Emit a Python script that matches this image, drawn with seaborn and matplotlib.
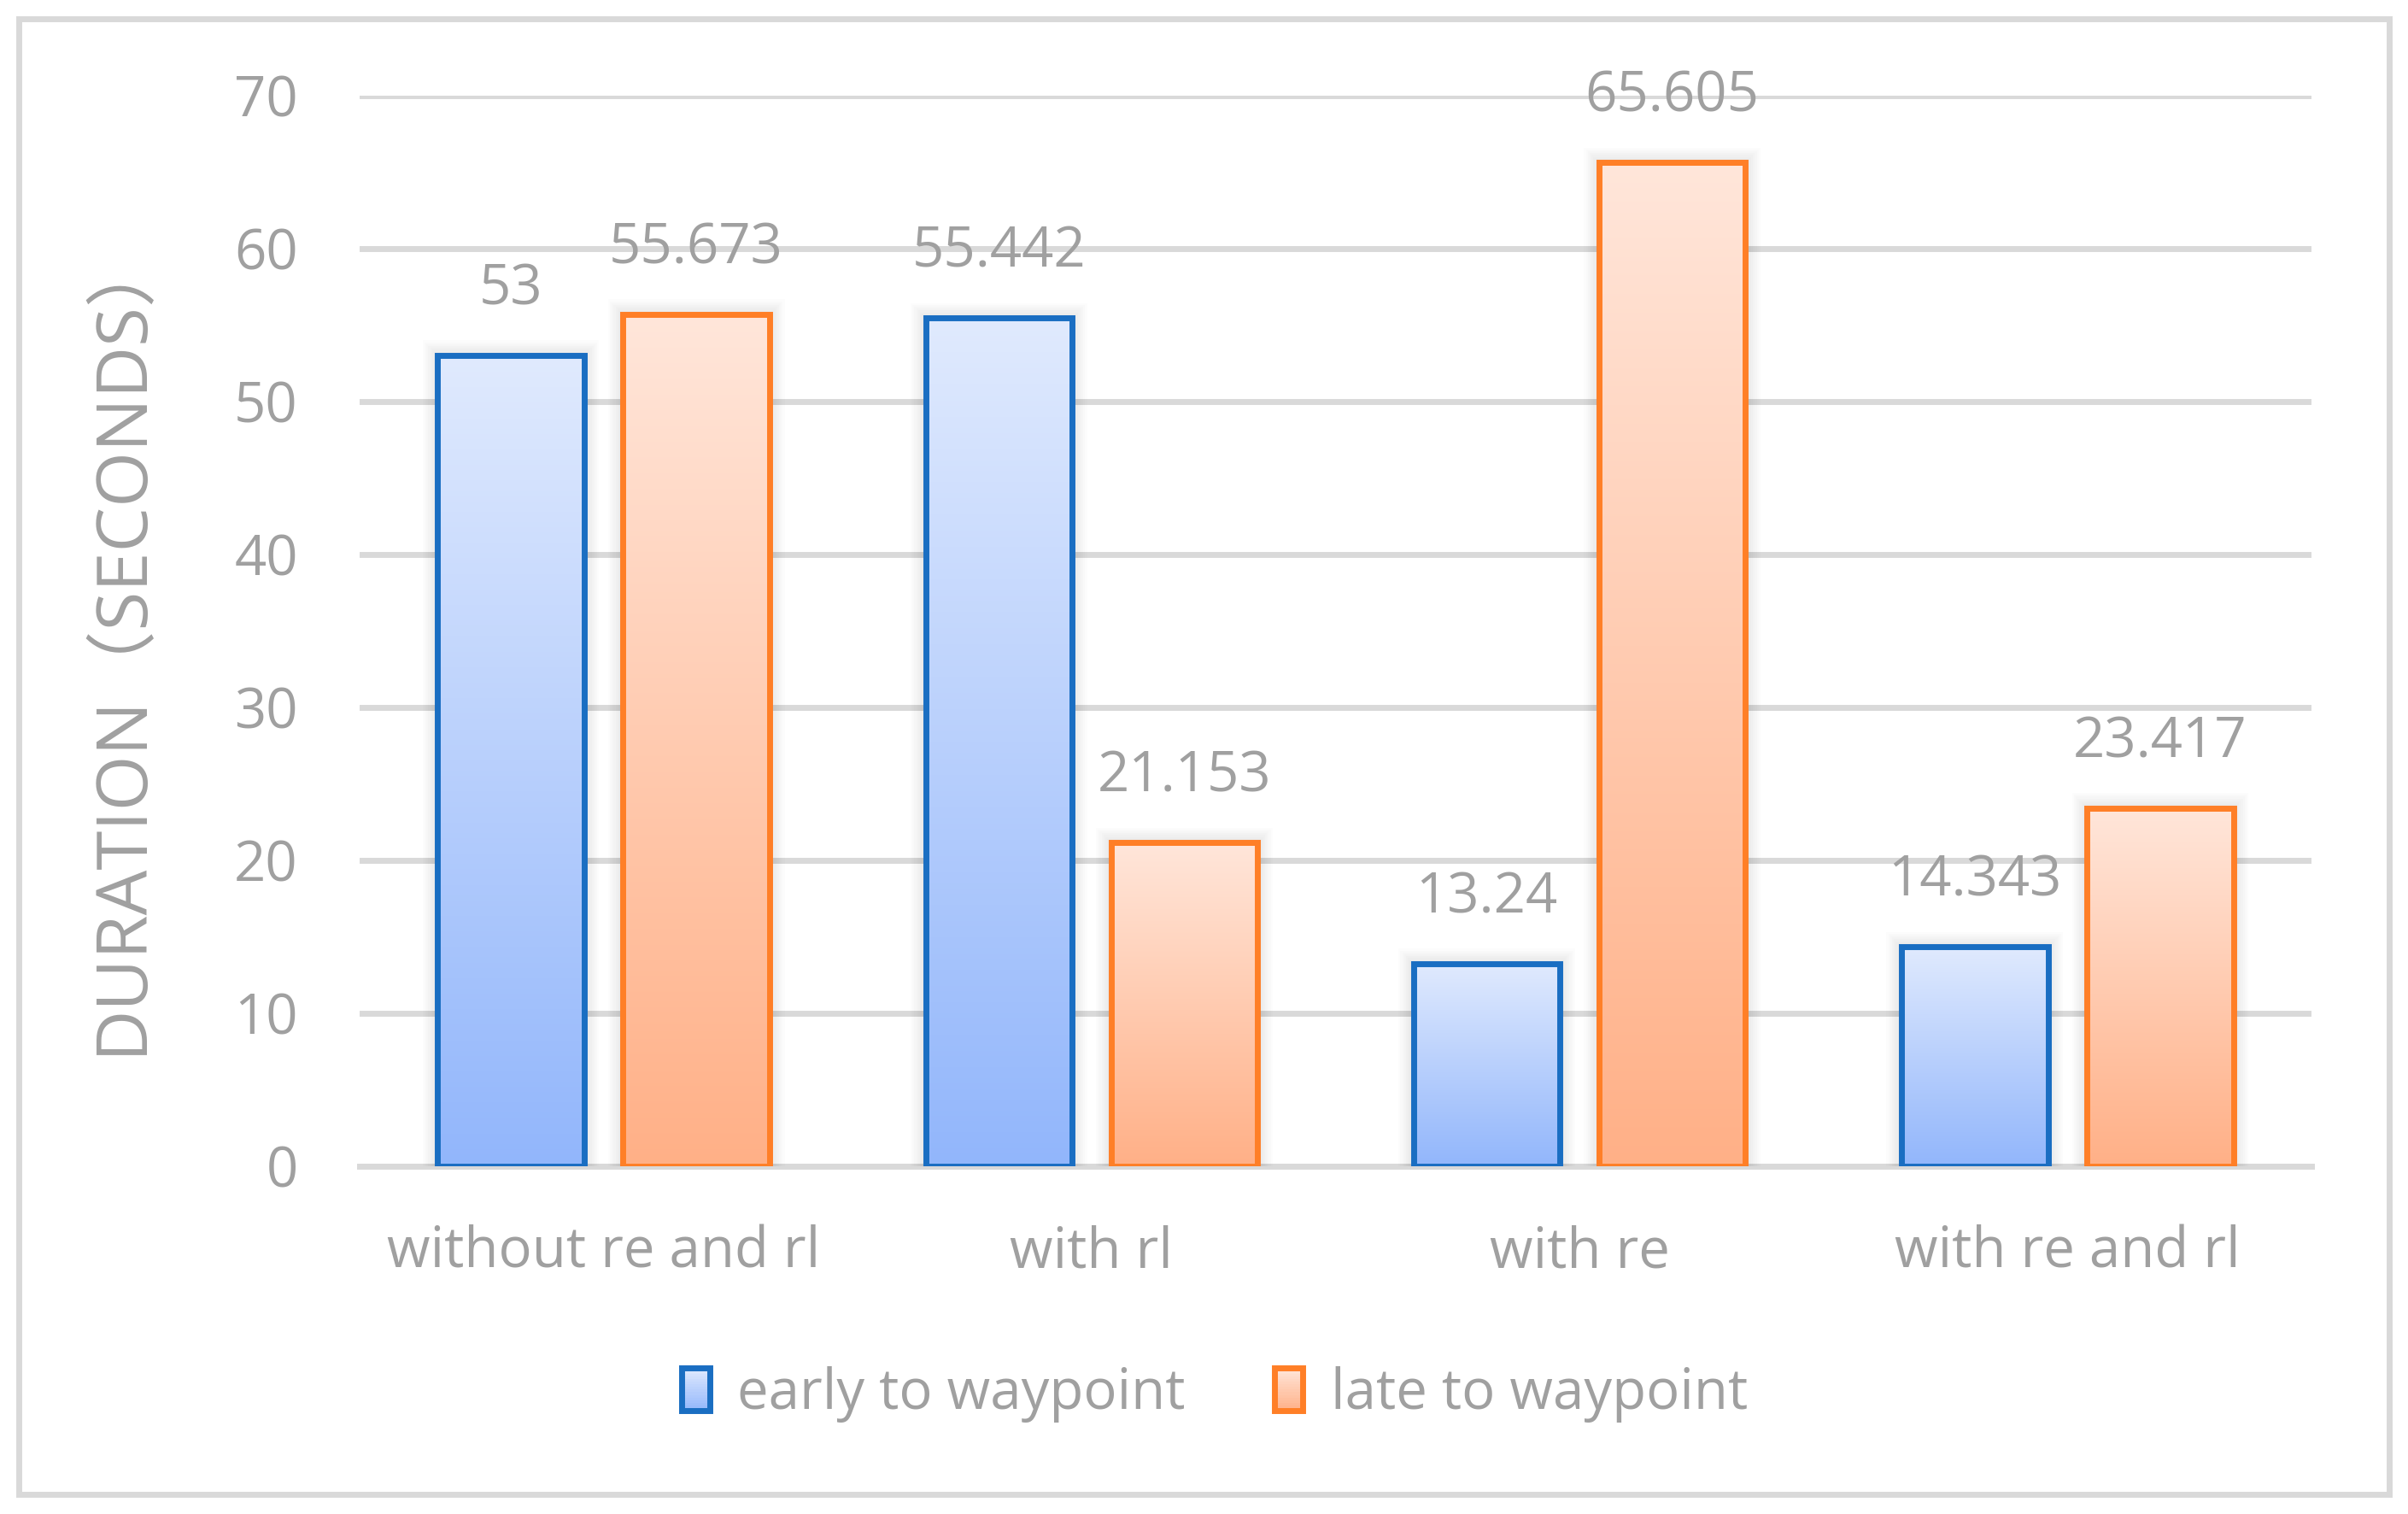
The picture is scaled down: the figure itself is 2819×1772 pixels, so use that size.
import numpy as np
import pandas as pd
import matplotlib
matplotlib.use("Agg")
import matplotlib.pyplot as plt
import seaborn as sns
from matplotlib.patches import Rectangle
from matplotlib.colors import to_rgba
from matplotlib.legend_handler import HandlerBase

# ---- data ----
categories = ["without re and rl", "with rl", "with re", "with re and rl"]
series_names = ["early to waypoint", "late to waypoint"]
early_values = [53, 55.442, 13.24, 14.343]
late_values = [55.673, 21.153, 65.605, 23.417]
value_labels_early = ["53", "55.442", "13.24", "14.343"]
value_labels_late = ["55.673", "21.153", "65.605", "23.417"]
y_ticks = [0, 10, 20, 30, 40, 50, 60, 70]
y_label = "DURATION（SECONDS）"

# ---- style ----
edge_colors = ["#1A6EC2", "#FF7F27"]
grad_top = ["#E0EAFE", "#FFE6DA"]
grad_bottom = ["#92B6FB", "#FFB087"]
text_gray = "#A0A0A0"
grid_gray = "#D9D9D9"

sns.set_theme(style="white")
plt.rcParams["font.family"] = ["Open Sans", "Noto Sans CJK SC", "DejaVu Sans"]

df = pd.DataFrame({
    "category": categories * 2,
    "series": [series_names[0]] * 4 + [series_names[1]] * 4,
    "value": early_values + late_values,
})

W, H, DPI = 2819, 1772, 100
fig = plt.figure(figsize=(W / DPI, H / DPI), dpi=DPI)
ax_l, ax_r, ax_t, ax_b = 421, 2706, 111.5, 1365
ax = fig.add_axes([ax_l / W, 1 - ax_b / H, (ax_r - ax_l) / W, (ax_b - ax_t) / H])

sns.barplot(data=df, x="category", y="value", hue="series", order=categories,
            hue_order=series_names, palette=edge_colors, width=0.76, gap=0.21,
            linewidth=5, ax=ax, legend=False, zorder=3)

ax.set_xlim(-0.5, 3.5)
ax.set_ylim(0, 70)
ax.set_yticks(y_ticks)
ax.yaxis.grid(True, color=grid_gray, linewidth=5, zorder=0)
ax.set_axisbelow(True)
for s in ["top", "right", "left"]:
    ax.spines[s].set_visible(False)
ax.spines["bottom"].set_color(grid_gray)
ax.spines["bottom"].set_linewidth(5)
ax.spines["bottom"].set_zorder(1)
ax.tick_params(axis="y", length=0, pad=52, labelsize=47, labelcolor=text_gray)
ax.tick_params(axis="x", length=0, pad=49, labelsize=47, labelcolor=text_gray)
ax.set_xlabel("")
ax.set_ylabel("")

# pixel -> data conversions for shadow
px_x = 4.0 / (ax_r - ax_l)
px_y = 70.0 / (ax_b - ax_t)

def gradient(top, bottom, n=256):
    t = np.linspace(0, 1, n)[:, None]
    c0 = np.array(to_rgba(top))
    c1 = np.array(to_rgba(bottom))
    arr = c0 * (1 - t) + c1 * t
    return arr[:, None, :]

labels_all = [value_labels_early, value_labels_late]
for si, cont in enumerate(ax.containers):
    for bi, patch in enumerate(cont.patches):
        patch.set_facecolor("none")
        patch.set_edgecolor(edge_colors[si])
        patch.set_linewidth(5)
        patch.set_zorder(3)
        patch.set_joinstyle("miter")
        x0, y0 = patch.get_x(), patch.get_y()
        w, h = patch.get_width(), patch.get_height()
        # soft shadow
        for k in range(1, 9):
            ax.add_patch(Rectangle((x0 - k * 2.2 * px_x, y0), w + 2 * k * 2.2 * px_x,
                                   h + k * 2.2 * px_y, facecolor="black",
                                   edgecolor="none", alpha=0.012, zorder=1.5))
        im = ax.imshow(gradient(grad_top[si], grad_bottom[si]), extent=[x0, x0 + w, y0, y0 + h],
                       origin="upper", aspect="auto", zorder=2.5, interpolation="bilinear")
        im.set_clip_path(patch)
        ax.annotate(labels_all[si][bi], xy=(x0 + w / 2, y0 + h), xytext=(0, 55),
                    textcoords="offset points", ha="center", va="center",
                    fontsize=47, color=text_gray, annotation_clip=False, zorder=4)

ax.set_xlim(-0.5, 3.5)
ax.set_ylim(0, 70)

# y label
fig.text(144 / W, 1 - 750 / H, y_label, rotation=90, ha="center", va="center",
         fontsize=60, color=text_gray)

# legend with gradient handles
class GradHandler(HandlerBase):
    def __init__(self, top, bottom, edge):
        super().__init__()
        self.top, self.bottom, self.edge = top, bottom, edge

    def create_artists(self, legend, orig_handle, xdescent, ydescent, width, height, fontsize, trans):
        arts = []
        n = 16
        c0 = np.array(to_rgba(self.top))
        c1 = np.array(to_rgba(self.bottom))
        for i in range(n):
            t = (i + 0.5) / n
            col = c1 * (1 - t) + c0 * t
            arts.append(Rectangle((-xdescent, -ydescent + height * i / n), width, height / n + 0.5,
                                  facecolor=col, edgecolor="none", transform=trans))
        arts.append(Rectangle((-xdescent, -ydescent), width, height, facecolor="none",
                              edgecolor=self.edge, linewidth=5, transform=trans))
        return arts

h1 = Rectangle((0, 0), 1, 1)
h2 = Rectangle((0, 0), 1, 1)
fig.legend([h1, h2], series_names, loc="center", bbox_to_anchor=(1422 / W, 1 - 1632 / H),
           ncol=2, frameon=False, fontsize=47, labelcolor=text_gray,
           handlelength=0.5, handleheight=0.8, handletextpad=0.5, columnspacing=1.6,
           handler_map={h1: GradHandler(grad_top[0], grad_bottom[0], edge_colors[0]),
                        h2: GradHandler(grad_top[1], grad_bottom[1], edge_colors[1])})

# outer border
fig.patches.append(Rectangle((22 / W, 1 - 1749 / H), (2797 - 22) / W, (1749 - 22) / H,
                             transform=fig.transFigure, facecolor="none",
                             edgecolor=grid_gray, linewidth=5, zorder=0))

fig.savefig("out.png", dpi=DPI, facecolor="white")
